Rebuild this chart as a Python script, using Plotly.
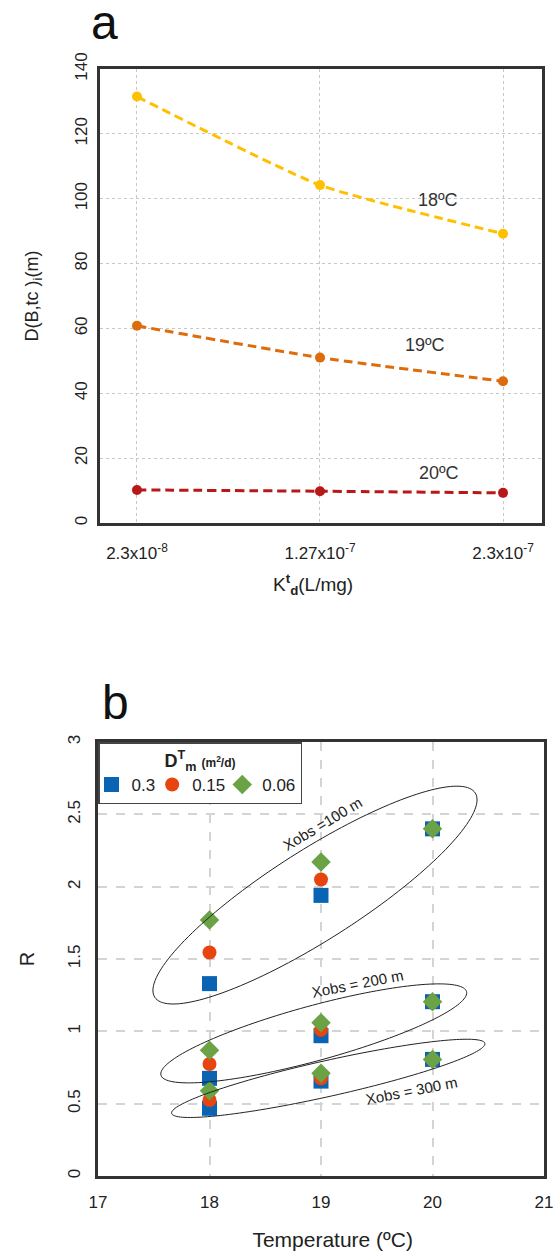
import numpy as np
import plotly.graph_objects as go

# ---------------- data: panel a ----------------
kd_labels = ["2.3x10<sup>-8</sup>", "1.27x10<sup>-7</sup>", "2.3x10<sup>-7</sup>"]
kd_pos = [0, 1, 2]
d_18 = [131.5, 104.2, 89.2]
d_19 = [60.8, 51.0, 43.7]
d_20 = [10.2, 9.8, 9.3]
series_a_names = ["18ºC", "19ºC", "20ºC"]
series_a_colors = ["#FFC000", "#DD6C0C", "#B81818"]
label_a_x = [1.645, 1.574, 1.65]
label_a_y = [99.6, 54.9, 15.4]

# ---------------- data: panel b ----------------
temps = [18, 18, 18, 19, 19, 19, 20, 20, 20]
r_03 = [1.33, 0.675, 0.468, 1.94, 0.97, 0.656, 2.40, 1.205, 0.806]
r_015 = [1.545, 0.774, 0.525, 2.05, 1.01, 0.675, 2.40, 1.205, 0.806]
r_006 = [1.77, 0.87, 0.59, 2.17, 1.06, 0.71, 2.40, 1.205, 0.806]
dm_names = ["0.3", "0.15", "0.06"]
dm_colors = ["#0A64B4", "#E8440F", "#6AA245"]
dm_symbols = ["square", "circle", "diamond"]
dm_sizes = [15, 14, 15]

FONT = "Arial, Liberation Sans, Helvetica, sans-serif"
W, H = 558, 1251
ML, MR, MT, MB = 98, 14, 69, 75
PW, PH = W - ML - MR, H - MT - MB

def px_x(px):
    return (px - ML) / PW

def px_y(py):
    return (H - MB - py) / PH

fig = go.Figure()

# panel a lines
for name, vals, col in zip(series_a_names, [d_18, d_19, d_20], series_a_colors):
    fig.add_trace(go.Scatter(
        x=kd_pos, y=vals, mode="lines+markers", name=name, showlegend=False,
        line=dict(color=col, width=3, dash="9px,5px", shape="spline", smoothing=0.5),
        marker=dict(color=col, size=10),
        xaxis="x", yaxis="y"))

for name, lx, ly in zip(series_a_names, label_a_x, label_a_y):
    fig.add_annotation(x=lx, y=ly, xref="x", yref="y", text=name, showarrow=False,
                       font=dict(size=18, color="#333333", family=FONT))

# panel b markers
for name, vals, col, sym, sz in zip(dm_names, [r_03, r_015, r_006], dm_colors, dm_symbols, dm_sizes):
    fig.add_trace(go.Scatter(
        x=temps, y=vals, mode="markers", name=name,
        marker=dict(color=col, symbol=sym, size=sz, line=dict(width=0)),
        xaxis="x2", yaxis="y2"))

# ellipses (annotation shapes) in panel b
XR2 = [17, 21]
YR2 = [0, 3]
PXX = PW / (XR2[1] - XR2[0])
PXY = (PH * 0.392) / (YR2[1] - YR2[0])

def ellipse_path(cx, cy, a, b, ang):
    th = np.deg2rad(ang)
    t = np.linspace(0, 2 * np.pi, 161)
    dx = a * np.cos(t) * np.cos(th) - b * np.sin(t) * np.sin(th)
    dy = a * np.cos(t) * np.sin(th) + b * np.sin(t) * np.cos(th)
    xs = cx + dx / PXX
    ys = cy + dy / PXY
    p = "M %.5f,%.5f " % (xs[0], ys[0])
    p += " ".join("L %.5f,%.5f" % (x, y) for x, y in zip(xs[1:], ys[1:]))
    return p + " Z"

ellipses = [
    (18.946, 1.942, 190, 45, 32.5),
    (18.935, 0.986, 158.4, 27.5, 15.3),
    (19.065, 0.675, 160.5, 17.9, 12.6),
]
for e in ellipses:
    fig.add_shape(type="path", path=ellipse_path(*e), xref="x2", yref="y2",
                  line=dict(color="#222222", width=1))

ell_labels = [("Xobs =100 m", 19.015, 2.438, -31),
              ("Xobs = 200 m", 19.326, 1.332, -11),
              ("Xobs = 300 m", 19.813, 0.594, -11)]
for txt, lx, ly, ang in ell_labels:
    fig.add_annotation(x=lx, y=ly, xref="x2", yref="y2", text=txt, showarrow=False,
                       textangle=ang, font=dict(size=15, color="#222222", family=FONT))

# panel letters
fig.add_annotation(x=px_x(104.5), y=px_y(22), xref="paper", yref="paper", text="a",
                   showarrow=False, xanchor="center", yanchor="middle",
                   font=dict(size=48, color="#111111", family=FONT))
fig.add_annotation(x=px_x(115), y=px_y(702), xref="paper", yref="paper", text="b",
                   showarrow=False, xanchor="center", yanchor="middle",
                   font=dict(size=48, color="#111111", family=FONT))

frame = dict(showline=True, mirror=True, linewidth=3, linecolor="#333333",
             zeroline=False, ticks="", automargin=False)

fig.update_layout(
    width=W, height=H, autosize=False,
    margin=dict(l=ML, r=MR, t=MT, b=MB),
    paper_bgcolor="white", plot_bgcolor="white",
    font=dict(family=FONT, color="#222222"),
    xaxis=dict(domain=[px_x(100), px_x(542)], range=[-0.202, 2.213],
               tickvals=kd_pos, ticktext=kd_labels,
               showgrid=True, gridcolor="#c8c8c8", griddash="dot", gridwidth=1,
               tickfont=dict(size=17), anchor="y", ticklabelstandoff=13,
               title=dict(text="K<sup><b>t</b></sup><sub><b>d</b></sub>(L/mg)&nbsp;&nbsp;&nbsp;",
                          font=dict(size=19), standoff=16),
               **frame),
    yaxis=dict(domain=[px_y(523), 1], range=[0, 140], dtick=20, tickangle=-90,
               showgrid=True, gridcolor="#c8c8c8", griddash="dot", gridwidth=1,
               tickfont=dict(size=17), anchor="x", ticklabelstandoff=3,
               title=dict(text="D(B,tc )<sub>i</sub>(m)", font=dict(size=18), standoff=29),
               **frame),
    xaxis2=dict(domain=[0, 1], range=XR2, dtick=1,
                showgrid=True, gridcolor="#d4d4d4", griddash="dash", gridwidth=1.5,
                tickfont=dict(size=17), anchor="y2", ticklabelstandoff=9,
                title=dict(text="&nbsp;&nbsp;&nbsp;&nbsp;Temperature (ºC)", font=dict(size=21), standoff=21),
                **frame),
    yaxis2=dict(domain=[0, 0.392], range=YR2, dtick=0.5, tickangle=-90,
                showgrid=True, gridcolor="#d4d4d4", griddash="dash", gridwidth=1.5,
                tickfont=dict(size=17), anchor="x2", ticklabelstandoff=8,
                title=dict(text="R", font=dict(size=20), standoff=26),
                **frame),
    legend=dict(x=0, y=0.392, xanchor="left", yanchor="top", orientation="h",
                bgcolor="white", bordercolor="#444444", borderwidth=1.5,
                indentation=-8,
                font=dict(size=17, color="#222222"),
                title=dict(text="<b>D<sup>T</sup><sub>m</sub> <span style='font-size:12px'>(m<sup>2</sup>/d)</span></b>",
                           side="top center", font=dict(size=18, color="#222222"))),
)

fig.write_html("out.html", config={"displayModeBar": False},
               post_script="document.body.style.margin='0px';")
